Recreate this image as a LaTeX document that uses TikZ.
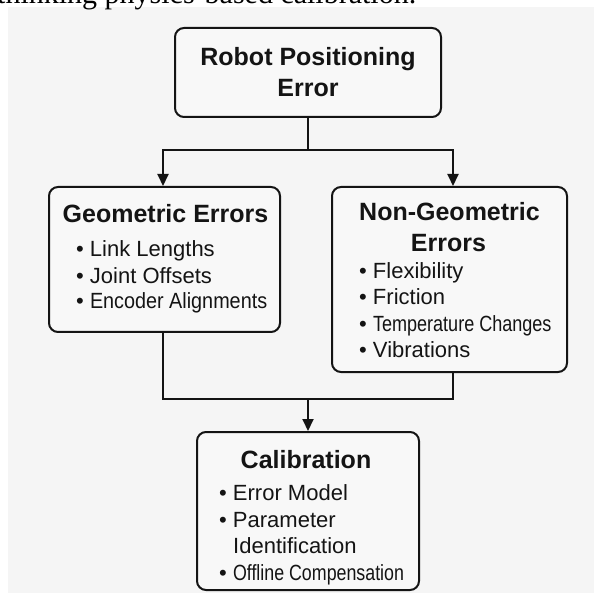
\documentclass[tikz,border=0pt]{standalone}
\usepackage{fontspec}
\usepackage{graphicx}
\setmainfont{Liberation Sans}
\newfontfamily\serifface{Liberation Serif}
\usetikzlibrary{arrows.meta}
\definecolor{ink}{RGB}{20,20,20}
\definecolor{panel}{RGB}{245,245,245}
\definecolor{boxfill}{RGB}{248,248,248}
\newcommand\sqz[2]{\scalebox{#1}[1]{#2}}
\begin{document}
\begin{tikzpicture}[x=1pt,y=-1pt,
  box/.style={draw=ink, line width=2pt, rounded corners=9pt, fill=boxfill, inner sep=0pt},
  conn/.style={draw=ink, line width=2pt},
  arr/.style={conn, -{Triangle[length=12pt,width=11pt]}},
  title/.style={font=\fontsize{25}{30}\selectfont\bfseries, text=ink, inner sep=0pt, anchor=base},
  item/.style={font=\fontsize{22}{26}\selectfont, text=ink, inner sep=0pt, anchor=base west}]
\clip (0,0) rectangle (594,593);
\fill[white] (0,0) rectangle (594,593);
\fill[panel] (8,7) rectangle (594,593);
\node[font=\serifface\fontsize{30}{36}\selectfont, anchor=base west, inner sep=0pt] (cut) at (-3,3.5) {thinking physics-based calibration.};

% boxes
\node[box, minimum width=266pt, minimum height=89pt] (top) at (308,72.5) {};
\node[box, minimum width=231pt, minimum height=145pt] (geo) at (164.5,259.5) {};
\node[box, minimum width=235pt, minimum height=185pt] (nongeo) at (449.5,279.5) {};
\node[box, minimum width=222pt, minimum height=158pt] (calib) at (308,511) {};

% texts
\node[title] (t1) at (308,66) {Robot Positioning};
\node[title] (t2) at (308,97) {Error};

\node[title] (g0) at (165.5,223) {Geometric Errors};
\node[item] (g1) at (76,257) {• Link Lengths};
\node[item] (g2) at (76,283.5) {• Joint Offsets};
\node[item] (g3) at (76,309) {• \sqz{0.9}{Encoder Alignments}};

\node[title] (n0) at (449.5,221) {Non-Geometric};
\node[title] (n1) at (448.5,252) {Errors};
\node[item] (n2) at (359,279) {• Flexibility};
\node[item] (n3) at (359,305) {• Friction};
\node[item] (n4) at (359,331.5) {• \sqz{0.82}{Temperature Changes}};
\node[item] (n5) at (359,357) {• Vibrations};

\node[title] (c0) at (306,468) {Calibration};
\node[item] (c1) at (219,500) {• Error Model};
\node[item] (c2) at (219,527) {• Parameter};
\node[item] (c3) at (233,553) {Identification};
\node[item] (c4) at (219,580) {• \sqz{0.81}{Offline Compensation}};

% connectors
\coordinate (split) at (308,150);
\coordinate (merge) at (308,399);
\draw[conn] (top.south) -- (split);
\draw[arr] (split) -| ([xshift=-1.5pt]geo.north);
\draw[arr] (split) -| ([xshift=3.5pt]nongeo.north);
\draw[conn] ([xshift=-1.5pt]geo.south) |- (merge);
\draw[conn] ([xshift=3.5pt]nongeo.south) |- (merge);
\draw[arr] (merge) -- (calib.north);
\end{tikzpicture}
\end{document}
